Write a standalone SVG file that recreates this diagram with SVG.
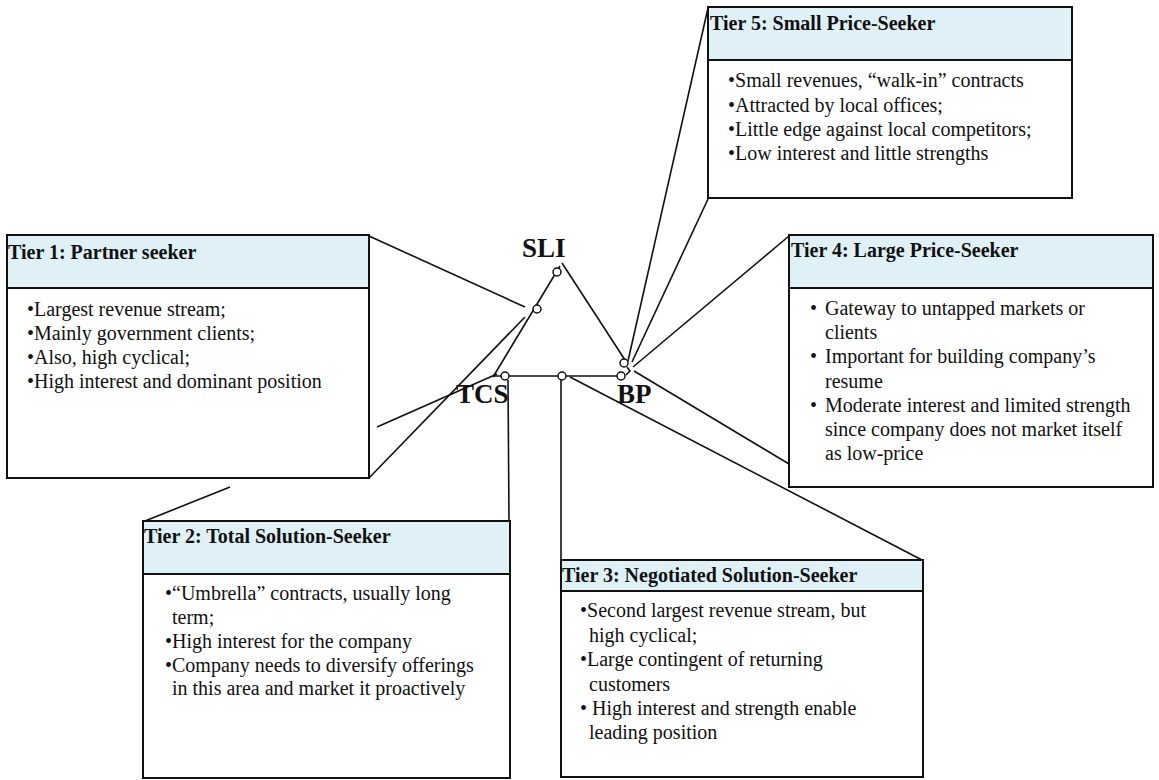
<svg xmlns="http://www.w3.org/2000/svg" width="1159" height="780" viewBox="0 0 1159 780">
  <style>
    .bg { fill: #ffffff; }
    .box { fill: #ffffff; stroke: #111; stroke-width: 2; }
    .hdr { fill: #dff0f7; stroke: #111; stroke-width: 2; }
    .wire { fill: none; stroke: #111; stroke-width: 1.6; }
    .pin { fill: #ffffff; stroke: #111; stroke-width: 1.5; }
    .title { font-family: "Liberation Serif", "Times New Roman", serif; font-weight: bold; font-size: 20px; fill: #111; }
    .body { font-family: "Liberation Serif", "Times New Roman", serif; font-size: 20px; fill: #111; }
    .vertex { font-family: "Liberation Serif", "Times New Roman", serif; font-weight: bold; font-size: 27px; fill: #111; }
  </style>

  <rect class="bg" x="0" y="0" width="1159" height="780"/>

  <!-- callout pointers from each tier box to its point on the triangle -->
  <g id="connectors">
    <!-- Tier 1 -->
    <line class="wire" x1="369" y1="236" x2="525" y2="307"/>
    <line class="wire" x1="369" y1="478" x2="525" y2="317"/>
    <!-- Tier 2 (interrupted where it passes behind Tier 1) -->
    <line class="wire" x1="145" y1="521" x2="230" y2="487"/>
    <line class="wire" x1="377" y1="427" x2="497" y2="374"/>
    <line class="wire" x1="509" y1="521" x2="508" y2="380"/>
    <!-- Tier 3 -->
    <line class="wire" x1="561" y1="560" x2="561" y2="380"/>
    <line class="wire" x1="570" y1="377" x2="922" y2="560"/>
    <!-- Tier 4 -->
    <line class="wire" x1="789" y1="236" x2="633" y2="367"/>
    <line class="wire" x1="789" y1="464" x2="634" y2="371"/>
    <!-- Tier 5 -->
    <line class="wire" x1="708" y1="8" x2="628" y2="361"/>
    <line class="wire" x1="708" y1="199" x2="632" y2="362"/>
  </g>

  <!-- SLI / TCS / BP triangle -->
  <g id="triangle">
    <line class="wire" x1="562" y1="263" x2="625" y2="360"/>
    <line class="wire" x1="560" y1="266" x2="493" y2="377"/>
    <line class="wire" x1="493" y1="376" x2="624" y2="376"/>
    <polyline class="wire" points="627,367 630,371 626,375"/>
    <circle class="pin" cx="557" cy="272" r="4"/>
    <circle class="pin" cx="537" cy="309" r="4"/>
    <circle class="pin" cx="505" cy="376" r="4"/>
    <circle class="pin" cx="562" cy="376" r="4"/>
    <circle class="pin" cx="624" cy="363" r="4"/>
    <circle class="pin" cx="621" cy="376" r="4"/>
    <text class="vertex" x="522" y="257">SLI</text>
    <text class="vertex" x="456" y="403">TCS</text>
    <text class="vertex" x="617" y="403">BP</text>
  </g>

  <g id="tier1">
    <rect class="box" x="7" y="235" width="362" height="243"/>
    <rect class="hdr" x="7" y="235" width="362" height="53"/>
    <text class="title" x="8" y="259">Tier 1: Partner seeker</text>
    <text class="body" x="27" y="316">•Largest revenue stream;</text>
    <text class="body" x="27" y="340">•Mainly government clients;</text>
    <text class="body" x="27" y="364">•Also, high cyclical;</text>
    <text class="body" x="27" y="388">•High interest and dominant position</text>
  </g>

  <g id="tier2">
    <rect class="box" x="143" y="521" width="367" height="257"/>
    <rect class="hdr" x="143" y="521" width="367" height="53"/>
    <text class="title" x="144" y="543">Tier 2: Total Solution-Seeker</text>
    <text class="body" x="165" y="600">•“Umbrella” contracts, usually long</text>
    <text class="body" x="172" y="624">term;</text>
    <text class="body" x="165" y="648">•High interest for the company</text>
    <text class="body" x="165" y="672">•Company needs to diversify offerings</text>
    <text class="body" x="172" y="695">in this area and market it proactively</text>
  </g>

  <g id="tier3">
    <rect class="box" x="561" y="560" width="362" height="217"/>
    <rect class="hdr" x="561" y="560" width="362" height="31"/>
    <text class="title" x="562" y="582">Tier 3: Negotiated Solution-Seeker</text>
    <text class="body" x="580" y="617">•Second largest revenue stream, but</text>
    <text class="body" x="589" y="642">high cyclical;</text>
    <text class="body" x="580" y="666">•Large contingent of returning</text>
    <text class="body" x="589" y="691">customers</text>
    <text class="body" x="580" y="715">• High interest and strength enable</text>
    <text class="body" x="589" y="739">leading position</text>
  </g>

  <g id="tier4">
    <rect class="box" x="789" y="235" width="364" height="252"/>
    <rect class="hdr" x="789" y="235" width="364" height="53"/>
    <text class="title" x="791" y="257">Tier 4: Large Price-Seeker</text>
    <text class="body" x="810" y="315">•</text>
    <text class="body" x="825" y="315">Gateway to untapped markets or</text>
    <text class="body" x="825" y="339">clients</text>
    <text class="body" x="810" y="363">•</text>
    <text class="body" x="825" y="363">Important for building company’s</text>
    <text class="body" x="825" y="388">resume</text>
    <text class="body" x="810" y="412">•</text>
    <text class="body" x="825" y="412">Moderate interest and limited strength</text>
    <text class="body" x="825" y="436">since company does not market itself</text>
    <text class="body" x="825" y="460">as low-price</text>
  </g>

  <g id="tier5">
    <rect class="box" x="708" y="7" width="364" height="191"/>
    <rect class="hdr" x="708" y="7" width="364" height="53"/>
    <text class="title" x="710" y="30">Tier 5: Small Price-Seeker</text>
    <text class="body" x="728" y="87">•Small revenues, “walk-in” contracts</text>
    <text class="body" x="728" y="112">•Attracted by local offices;</text>
    <text class="body" x="728" y="136">•Little edge against local competitors;</text>
    <text class="body" x="728" y="160">•Low interest and little strengths</text>
  </g>
</svg>
